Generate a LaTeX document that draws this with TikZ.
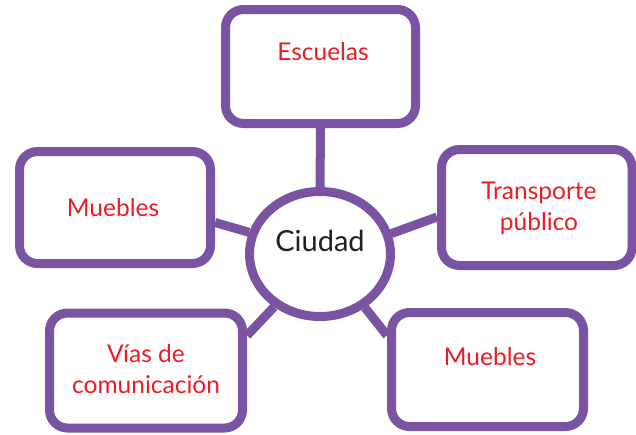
\documentclass[tikz,border=0pt]{standalone}
\usepackage{fontspec}
\setmainfont{Lato}
\usetikzlibrary{shapes.geometric,shadows,backgrounds,calc}
\definecolor{vio}{HTML}{7A54A2}
\definecolor{redt}{HTML}{EC1C24}
\definecolor{ink}{HTML}{231F20}
\begin{document}
\begin{tikzpicture}[x=1pt,y=-1pt,
  box/.style={draw=vio, line width=9pt, fill=white, rounded corners=18pt, inner sep=0pt,
    drop shadow={shadow xshift=3pt, shadow yshift=-3pt, opacity=0.25, fill=black!60}},
  hub/.style={ellipse, draw=vio, line width=9pt, fill=white, inner sep=0pt,
    drop shadow={shadow xshift=3pt, shadow yshift=-3pt, opacity=0.25, fill=black!60}},
  lbl/.style={text=redt, font=\fontsize{24.5}{31}\selectfont, align=center},
  link/.style={draw=vio, line width=9pt}]
\useasboundingbox (0,0) rectangle (636,434);
\node[box, minimum width=190, minimum height=114] (esc) at (320.5,66.5) {};
\node[box, minimum width=191, minimum height=112] (mue1) at (115,207.5) {};
\node[box, minimum width=190.5, minimum height=116] (tra) at (536.75,207.5) {};
\node[box, minimum width=193, minimum height=115] (via) at (146,370.5) {};
\node[box, minimum width=192, minimum height=114] (mue2) at (487.5,369.5) {};
\node[hub, minimum width=141, minimum height=125] (ciu) at (320,254) {};
\node[lbl] (tesc) at (323,52) {Escuelas};
\node[lbl] (tmue1) at (113,208) {Muebles};
\node[lbl] (ttra) at (539,208) {Transporte\\público};
\node[lbl] (tvia) at (146,369) {Vías de\\comunicación};
\node[lbl] (tmue2) at (490,357) {Muebles};
\node[text=ink, font=\fontsize{29}{33}\selectfont] (tciu) at (320,241) {Ciudad};
\begin{pgfonlayer}{background}
\draw[link] (esc.south) -- (ciu.north);
\draw[link] ($(mue1.east)+(0,15)$) -- (ciu.163);
\draw[link] ($(tra.west)+(0,9.5)$) -- (ciu.16);
\draw[link] ($(via.east)+(0,-35)$) -- (ciu.229);
\draw[link] ($(mue2.west)+(0,-34)$) -- (ciu.310);
\end{pgfonlayer}
\end{tikzpicture}
\end{document}
